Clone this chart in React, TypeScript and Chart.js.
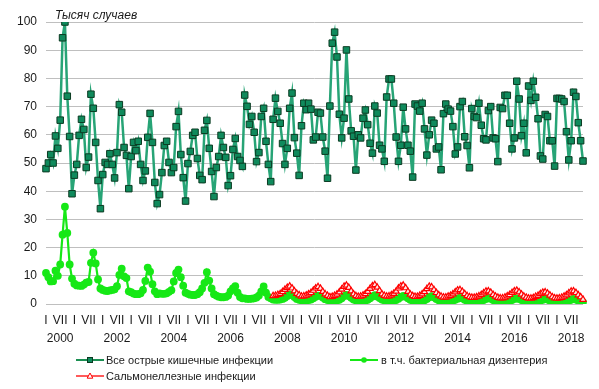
import React, { useEffect, useRef } from 'react';
import { Chart, registerables } from 'chart.js';

Chart.register(...registerables);

// ---- Data ----
const years = [2000, 2001, 2002, 2003, 2004, 2005, 2006, 2007, 2008, 2009, 2010, 2011, 2012, 2013, 2014, 2015, 2016, 2017, 2018];
const monthNames = ['I', 'II', 'III', 'IV', 'V', 'VI', 'VII', 'VIII', 'IX', 'X', 'XI', 'XII'];
const shownMonthTicks = ['I', 'VII'];
const yearTickLabels = ['2000', '2002', '2004', '2006', '2008', '2010', '2012', '2014', '2016', '2018'];
const yAxisTitle = 'Тысяч случаев';
const yMax = 100;
const yStep = 10;

const seriesNames = [
  'Все острые кишечные инфекции',
  'в т.ч. бактериальная дизентерия',
  'Сальмонеллезные инфекции',
];

// Все острые кишечные инфекции, тыс. случаев (Jan 2000 – Dec 2018)
const allInfections = [
  48, 50, 53, 50, 59.6, 55.2, 65.2, 94.4, 100, 73.7, 59.4, 39.1,
  45.7, 49.5, 59.8, 65.5, 61.9, 48.4, 52.1, 74.4, 69.4, 57.3, 43.8, 33.8,
  45.9, 50.2, 49.5, 53.3, 49.5, 44.7, 53.7, 70.7, 68.0, 55.5, 52.7, 40.9,
  52.3, 57.3, 54.4, 57.7, 49.5, 43.8, 47.2, 59.1, 67.6, 57.3, 43.1, 35.6,
  38.8, 46.6, 56.2, 57.7, 50.2, 46.6, 48.4, 62.9, 68.3, 53.0, 44.8, 36.5,
  49.8, 54.1, 59.8, 60.9, 51.6, 45.6, 44.1, 61.6, 65.1, 55.2, 47.0, 38.1,
  48.4, 52.3, 59.8, 55.5, 52.0, 42.0, 45.5, 54.8, 58.7, 52.3, 50.9, 48.8,
  74.1, 70.1, 63.7, 66.5, 60.9, 50.5, 53.7, 66.5, 69.4, 57.7, 49.5, 43.4,
  65.5, 73.0, 68.3, 64.1, 56.9, 49.5, 55.2, 69.4, 74.8, 59.0, 53.5, 45.6,
  63.2, 71.2, 68.9, 71.2, 69.1, 58.2, 59.2, 68.0, 67.7, 59.2, 54.2, 44.6,
  70.2, 92.5, 96.4, 87.6, 67.3, 58.9, 65.9, 90.1, 72.7, 61.4, 59.5, 47.5,
  60.0, 58.9, 65.9, 68.8, 63.6, 57.0, 53.5, 70.2, 67.7, 56.3, 55.0, 50.6,
  73.4, 79.8, 79.8, 71.2, 59.2, 50.6, 56.3, 69.8, 62.1, 56.3, 54.2, 45.0,
  70.9, 70.2, 68.4, 71.2, 62.1, 52.8, 60.0, 65.2, 64.1, 55.0, 55.7, 47.6,
  67.5, 70.9, 69.1, 68.4, 62.9, 53.2, 55.7, 70.0, 71.8, 59.3, 56.2, 48.3,
  69.3, 66.5, 66.1, 71.2, 63.4, 58.6, 58.2, 68.6, 70.0, 58.9, 58.6, 50.5,
  69.7, 69.3, 74.0, 74.0, 64.1, 55.0, 58.9, 79.0, 72.7, 59.7, 64.1, 53.6,
  77.3, 72.2, 79.0, 73.3, 65.7, 52.5, 51.4, 67.2, 66.5, 57.9, 57.9, 48.9,
  72.9, 72.9, 72.7, 71.8, 61.1, 51.1, 57.9, 75.1, 73.6, 64.3, 57.9, 50.7,
];

// в т.ч. бактериальная дизентерия (Jan 2000 – Dec 2018)
const dysentery = [
  11.0, 9.5, 8.0, 8.1, 11.8, 10.0, 14.0, 24.6, 34.5, 25.2, 14.0, 9.0,
  7.2, 6.6, 6.5, 6.4, 6.9, 7.6, 7.8, 14.6, 18.2, 14.4, 8.7, 5.5,
  5.0, 4.7, 4.6, 4.8, 5.0, 5.2, 6.3, 10.3, 12.5, 9.8, 9.2, 4.5,
  4.2, 3.7, 3.5, 3.5, 3.8, 5.0, 8.2, 12.9, 11.5, 7.0, 4.5, 3.5,
  3.8, 3.6, 3.6, 3.8, 4.3, 4.9, 8.0, 11.0, 12.2, 9.5, 6.5, 4.0,
  3.6, 3.3, 3.2, 3.2, 3.5, 4.2, 5.5, 7.5, 11.3, 8.3, 5.5, 3.5,
  3.0, 2.6, 2.4, 2.4, 2.5, 3.0, 4.5, 5.5, 6.3, 4.0, 2.5, 2.0,
  2.0, 1.8, 1.8, 1.9, 2.0, 2.3, 3.0, 4.5, 6.2, 4.0, 2.5, 2.0,
  1.6, 1.5, 1.5, 1.6, 1.8, 2.2, 2.8, 3.3, 3.2, 2.5, 1.8, 1.5,
  1.3, 1.3, 1.3, 1.4, 1.6, 2.0, 2.6, 3.0, 2.9, 2.3, 1.7, 1.4,
  1.3, 1.2, 1.2, 1.3, 1.5, 2.0, 2.8, 3.2, 2.8, 2.2, 1.6, 1.3,
  1.2, 1.1, 1.1, 1.2, 1.5, 2.0, 2.7, 3.1, 2.7, 2.1, 1.6, 1.3,
  1.1, 1.1, 1.1, 1.2, 1.4, 1.9, 2.5, 2.9, 2.6, 2.0, 1.5, 1.2,
  1.0, 1.0, 1.0, 1.1, 1.3, 1.8, 2.4, 2.8, 2.4, 1.8, 1.3, 1.1,
  0.9, 0.9, 0.9, 1.0, 1.2, 1.5, 1.9, 2.2, 2.0, 1.5, 1.1, 0.9,
  0.8, 0.8, 0.8, 0.9, 1.1, 1.4, 1.8, 2.1, 1.9, 1.4, 1.0, 0.8,
  0.8, 0.8, 0.8, 0.9, 1.1, 1.4, 1.8, 2.0, 1.8, 1.4, 1.0, 0.8,
  0.7, 0.7, 0.7, 0.8, 0.9, 1.2, 1.5, 1.8, 1.6, 1.2, 0.9, 0.7,
  0.7, 0.7, 0.7, 0.8, 0.9, 1.2, 1.5, 1.8, 1.6, 1.2, 0.9, 0.7,
];

// Сальмонеллезные инфекции (Jan 2008 – Dec 2018)
const salmonellaStartYear = 2008;
const salmonella = [
  2.9, 3.0, 3.3, 3.6, 4.3, 5.1, 5.8, 6.3, 5.6, 4.6, 3.7, 3.2,
  2.7, 2.8, 3.1, 3.5, 4.0, 4.8, 5.6, 6.1, 5.5, 4.4, 3.5, 3.0,
  2.5, 2.6, 3.0, 3.4, 4.2, 5.2, 6.2, 6.6, 5.8, 4.6, 3.5, 2.9,
  2.6, 2.7, 3.1, 3.6, 4.4, 5.5, 6.4, 6.8, 5.9, 4.7, 3.5, 3.0,
  2.7, 2.8, 3.2, 3.7, 4.5, 5.6, 6.3, 6.6, 5.7, 4.4, 3.4, 2.9,
  2.6, 2.6, 3.0, 3.5, 4.3, 5.4, 6.2, 6.0, 5.0, 4.0, 3.2, 2.7,
  2.4, 2.4, 2.7, 3.0, 3.5, 4.2, 4.9, 5.0, 4.4, 3.6, 2.9, 2.5,
  2.3, 2.3, 2.5, 2.8, 3.3, 3.9, 4.5, 4.6, 4.1, 3.3, 2.7, 2.3,
  2.1, 2.1, 2.4, 2.8, 3.3, 4.0, 4.6, 4.8, 4.2, 3.4, 2.7, 2.3,
  2.0, 2.0, 2.2, 2.6, 3.0, 3.6, 4.1, 4.2, 3.8, 3.1, 2.5, 2.1,
  2.0, 2.1, 2.3, 2.7, 3.2, 3.9, 4.5, 4.6, 4.0, 3.2, 2.5, 1.6,
];

// ---- Styles ----
const COLORS = {
  aciLine: '#27a476',
  aciLegendLine: '#1b8f52',
  aciFill: '#0f8a5c',
  aciBorder: '#0b3b22',
  dys: '#16e816',
  sal: '#ff0000',
  grid: '#bfbfbf',
  text: '#1a1a1a',
};
const FONT = "Arial, 'Liberation Sans', sans-serif";

const Symbol: React.FC<{ kind: 'rect' | 'circle' | 'triangle' }> = ({ kind }) => {
  const color = kind === 'rect' ? COLORS.aciLegendLine : kind === 'circle' ? COLORS.dys : COLORS.sal;
  return (
    <svg width={28} height={10} style={{ display: 'block' }}>
      <line x1={0} y1={5} x2={28} y2={5} stroke={color} strokeWidth={kind === 'triangle' ? 1.3 : 2} />
      {kind === 'rect' && <rect x={11.5} y={2.5} width={5} height={5} fill={COLORS.aciFill} stroke={COLORS.aciBorder} strokeWidth={1} />}
      {kind === 'circle' && <circle cx={14} cy={5} r={2.8} fill={COLORS.dys} />}
      {kind === 'triangle' && <polygon points="14,2 16.8,7.2 11.2,7.2" fill="#ffffff" stroke={COLORS.sal} strokeWidth={1} />}
    </svg>
  );
};

export default function App() {
  const canvasRef = useRef<HTMLCanvasElement | null>(null);

  useEffect(() => {
    document.body.style.margin = '0';
    const canvas = canvasRef.current;
    if (!canvas) return;

    const categories = years.flatMap((y) => monthNames.map((m) => `${m} ${y}`));
    const salOffset = (salmonellaStartYear - years[0]) * 12;
    const salmonellaFull: (number | null)[] = categories.map((_, i) =>
      i < salOffset ? null : salmonella[i - salOffset] ?? null
    );

    const chart = new Chart(canvas, {
      type: 'line',
      data: {
        labels: categories,
        datasets: [
          {
            label: seriesNames[0],
            data: allInfections,
            borderColor: COLORS.aciLine,
            borderWidth: 2.5,
            pointStyle: 'rect',
            pointRadius: 4.6,
            pointBackgroundColor: COLORS.aciFill,
            pointBorderColor: COLORS.aciBorder,
            pointBorderWidth: 1,
            tension: 0,
            order: 0,
          },
          {
            label: seriesNames[2],
            data: salmonellaFull,
            borderColor: COLORS.sal,
            borderWidth: 1.8,
            pointStyle: 'triangle',
            pointRadius: 3.6,
            pointBackgroundColor: '#ffe6e6',
            pointBorderColor: COLORS.sal,
            pointBorderWidth: 1.2,
            tension: 0,
            order: 1,
          },
          {
            label: seriesNames[1],
            data: dysentery,
            borderColor: COLORS.dys,
            backgroundColor: COLORS.dys,
            borderWidth: 2.2,
            pointStyle: 'circle',
            pointRadius: 3.9,
            pointBackgroundColor: COLORS.dys,
            pointBorderColor: COLORS.dys,
            pointBorderWidth: 0,
            tension: 0,
            order: 2,
          },
        ],
      },
      options: {
        responsive: false,
        animation: false,
        devicePixelRatio: 1,
        layout: { padding: { top: 22, right: 16, bottom: 44, left: 0 } },
        plugins: {
          legend: { display: false },
          tooltip: { enabled: false },
        },
        scales: {
          x: {
            type: 'category',
            offset: false,
            grid: { display: false, drawTicks: false },
            border: { display: false },
            ticks: {
              autoSkip: false,
              maxRotation: 0,
              minRotation: 0,
              padding: 7,
              color: COLORS.text,
              font: { family: FONT, size: 12, lineHeight: 1.55 },
              callback: (_v: any, index: number) => {
                const m = monthNames[index % 12];
                const y = String(years[Math.floor(index / 12)]);
                if (!shownMonthTicks.includes(m)) return '';
                if (m === 'VII' && yearTickLabels.includes(y)) return [m, y];
                return m;
              },
            },
            afterFit: (scale: any) => {
              scale.height = 41;
            },
          },
          y: {
            min: 0,
            max: yMax,
            grid: { color: COLORS.grid, lineWidth: 1, drawTicks: false },
            border: { display: false },
            ticks: {
              stepSize: yStep,
              padding: 9,
              color: COLORS.text,
              font: { family: FONT, size: 12 },
            },
            afterFit: (scale: any) => {
              scale.width = 46;
            },
          },
        },
      },
    });

    return () => chart.destroy();
  }, []);

  return (
    <div style={{ position: 'relative', width: 599, height: 389, fontFamily: FONT, background: '#fff', overflow: 'hidden' }}>
      <canvas ref={canvasRef} width={599} height={389} style={{ display: 'block' }} />
      <div style={{ position: 'absolute', left: 55, top: 8, fontSize: 12, fontStyle: 'italic', color: COLORS.text, lineHeight: '14px' }}>
        {yAxisTitle}
      </div>
      <div style={{ position: 'absolute', left: 76, top: 355 }}><Symbol kind="rect" /></div>
      <div style={{ position: 'absolute', left: 106, top: 353, fontSize: 11, lineHeight: '14px', color: COLORS.text }}>{seriesNames[0]}</div>
      <div style={{ position: 'absolute', left: 350, top: 355 }}><Symbol kind="circle" /></div>
      <div style={{ position: 'absolute', left: 381, top: 353, fontSize: 11, lineHeight: '14px', color: COLORS.text }}>{seriesNames[1]}</div>
      <div style={{ position: 'absolute', left: 76, top: 371 }}><Symbol kind="triangle" /></div>
      <div style={{ position: 'absolute', left: 106, top: 369, fontSize: 11, lineHeight: '14px', color: COLORS.text }}>{seriesNames[2]}</div>
    </div>
  );
}
